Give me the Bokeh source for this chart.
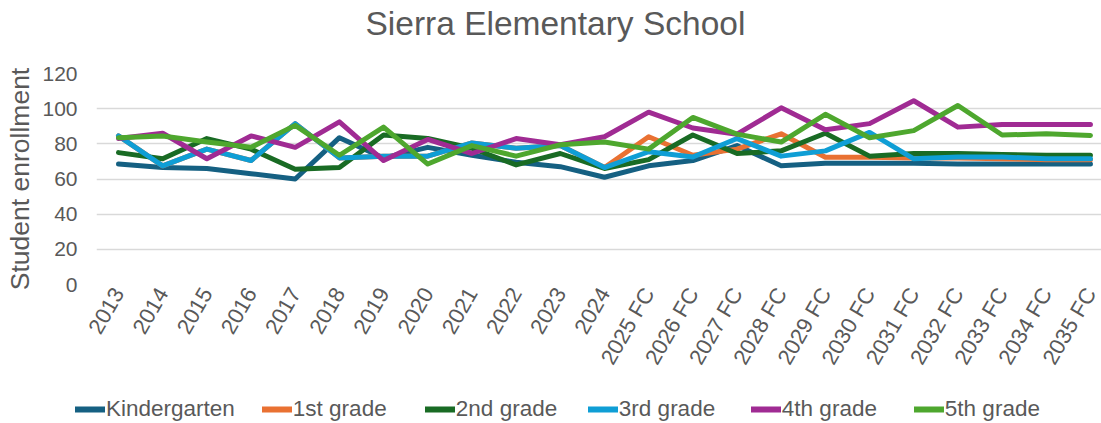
import math
from bokeh.plotting import figure
from bokeh.layouts import column
from bokeh.models import Range1d, FixedTicker, Legend, LegendItem, LinearAxis
from bokeh.embed import file_html
from bokeh.resources import INLINE

years = ["2013", "2014", "2015", "2016", "2017", "2018", "2019", "2020", "2021",
         "2022", "2023", "2024", "2025 FC", "2026 FC", "2027 FC", "2028 FC",
         "2029 FC", "2030 FC", "2031 FC", "2032 FC", "2033 FC", "2034 FC", "2035 FC"]

kindergarten = [68.5, 66.5, 66, 63, 60, 83.5, 72, 78, 73.5, 69.5, 67, 61,
                67.5, 70.5, 79, 67.5, 69, 69, 69, 68.5, 68.5, 68.5, 68.5]
first_grade = [84.5, 67.5, 77, 70.5, 91.5, 72, 73, 73, 80.5, 77.5, 79, 66.5,
               84, 73.5, 77, 85.7, 72.4, 72.4, 72, 72, 71.5, 71, 71]
second_grade = [75, 71.5, 83, 77, 65.5, 66.5, 85, 83, 77.5, 68, 74.5, 66,
                71, 85, 74.5, 76, 86, 73, 74.5, 74.5, 74, 73.5, 73.5]
third_grade = [84.5, 67.5, 77, 70.5, 91.5, 72, 73, 73, 80.5, 77.5, 79, 66.5,
               75.5, 72.5, 83, 73, 76, 86.5, 71.5, 72.5, 72.5, 71.5, 71.5]
fourth_grade = [83, 86, 71.5, 84.5, 78, 92.5, 70.5, 82.5, 74.5, 83, 79.5, 84,
                98, 89, 85.5, 100.5, 88, 91.5, 104.5, 89.5, 91, 91, 91]
fifth_grade = [83.5, 84.5, 81, 78, 90.5, 73.5, 89.5, 68.5, 79, 73, 79.5, 81,
               77, 95, 85.5, 81, 96.8, 83.5, 87.5, 101.8, 85, 85.7, 84.8]

series_names = ["Kindergarten", "1st grade", "2nd grade", "3rd grade", "4th grade", "5th grade"]
series_values = [kindergarten, first_grade, second_grade, third_grade, fourth_grade, fifth_grade]
colors = ["#156082", "#E97132", "#196B24", "#0F9ED5", "#A02B93", "#4EA72E"]

y_ticks = [0, 20, 40, 60, 80, 100, 120]

FONT = "Liberation Sans"
GREY = "#595959"

xs = list(range(len(years)))

# main chart: frame spans x 96..1101, y 73..284
p = figure(width=1101, height=395, output_backend="svg", toolbar_location=None,
           title="Sierra Elementary School",
           x_range=Range1d(-0.498, 22.25), y_range=Range1d(0, 120),
           min_border_left=96, min_border_right=0, min_border_top=73, min_border_bottom=111)
p.frame_align = False

p.title.align = "left"
p.title.offset = 269
p.title.standoff = 1
p.title.text_font = FONT
p.title.text_font_size = "33.5px"
p.title.text_font_style = "normal"
p.title.text_color = GREY

p.outline_line_color = None
p.background_fill_color = "white"
p.border_fill_color = "white"

p.xgrid.grid_line_color = None
p.ygrid.grid_line_color = "#D9D9D9"
p.ygrid.grid_line_width = 1.4

xaxis = p.below[0]
yaxis = p.left[0]

yaxis.ticker = FixedTicker(ticks=y_ticks)
xaxis.ticker = FixedTicker(ticks=xs)
xaxis.major_label_overrides = {i: lab for i, lab in enumerate(years)}
xaxis.major_label_orientation = math.pi / 3

for ax in (xaxis, yaxis):
    ax.axis_line_color = None
    ax.major_tick_line_color = None
    ax.minor_tick_line_color = None
    ax.major_tick_out = 0
    ax.major_tick_in = 0
    ax.minor_tick_out = 0
    ax.minor_tick_in = 0
    ax.major_label_text_font = FONT
    ax.major_label_text_color = GREY

yaxis.major_label_text_font_size = "21px"
xaxis.major_label_text_font_size = "22px"
yaxis.major_label_standoff = 19
xaxis.major_label_standoff = 5
yaxis.axis_label = "Student enrollment"
yaxis.axis_label_text_font = FONT
yaxis.axis_label_text_font_size = "26.5px"
yaxis.axis_label_text_font_style = "normal"
yaxis.axis_label_text_color = GREY
yaxis.axis_label_standoff = 4

for vals, col in zip(series_values, colors):
    p.line(xs, vals, line_color=col, line_width=5, line_cap="round", line_join="round")

# invisible spacer between the frame and the title: one hidden tick, empty label
spacer = LinearAxis(ticker=FixedTicker(ticks=[0]), axis_line_color=None,
                    major_tick_line_color=None, minor_tick_line_color=None,
                    major_tick_out=31, major_tick_in=0, minor_tick_out=0, minor_tick_in=0,
                    major_label_standoff=0, major_label_overrides={0: ""},
                    major_label_text_font_size="1px")
p.add_layout(spacer, "above")

# legend strip (its own small figure so it is not clipped by the chart frame)
lg = figure(width=1101, height=28, output_backend="svg", toolbar_location=None,
            x_range=Range1d(-0.498, 22.25), y_range=Range1d(1000, 1001),
            x_axis_type=None, y_axis_type=None,
            min_border_left=0, min_border_right=0, min_border_top=0, min_border_bottom=0)
lg.frame_align = False
lg.outline_line_color = None
lg.xgrid.grid_line_color = None
lg.ygrid.grid_line_color = None

items = []
for name, vals, col in zip(series_names, series_values, colors):
    r = lg.line(xs, vals, line_color=col, line_width=6, line_cap="round")
    items.append(LegendItem(label=name, renderers=[r]))

legend = Legend(items=items, orientation="horizontal", location=(75, 1),
                border_line_color=None, background_fill_alpha=0,
                label_text_font=FONT, label_text_font_size="22.5px", label_text_color=GREY,
                glyph_width=30, glyph_height=22, spacing=27, label_standoff=1,
                label_width=105, padding=0, margin=0)
lg.add_layout(legend, "center")

layout = column(p, lg, spacing=0)
open("out.html", "w").write(file_html(layout, INLINE))
